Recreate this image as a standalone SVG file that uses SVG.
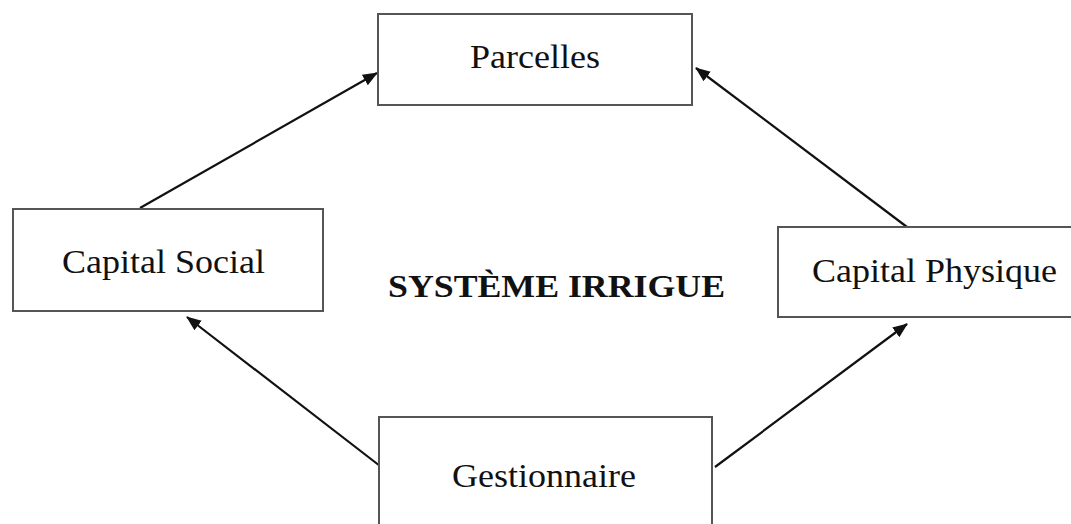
<svg xmlns="http://www.w3.org/2000/svg" width="1071" height="524" viewBox="0 0 1071 524">
  <style>
    .box { fill: #ffffff; stroke: #555555; stroke-width: 2; }
    .label { font-family: "Liberation Serif", "Times New Roman", serif; font-size: 33px; fill: #111111; text-anchor: middle; }
    .title { font-family: "Liberation Serif", "Times New Roman", serif; font-size: 32px; font-weight: bold; fill: #111111; text-anchor: middle; }
    .link { stroke: #111111; stroke-width: 2.2; fill: none; marker-end: url(#arrow); }
  </style>
  <defs>
    <marker id="arrow" markerUnits="userSpaceOnUse" markerWidth="16" markerHeight="14" refX="14" refY="7" orient="auto">
      <path d="M0,1 L15,7 L0,13 Z" fill="#111111"/>
    </marker>
  </defs>
  <rect width="1071" height="524" fill="#ffffff"/>

  <!-- connectors -->
  <g id="connectors">
    <line class="link" x1="140" y1="208" x2="377" y2="73"/>
    <line class="link" x1="907" y1="227" x2="696" y2="68"/>
    <line class="link" x1="380" y1="466" x2="187" y2="317"/>
    <line class="link" x1="715" y1="467" x2="907" y2="324"/>
  </g>

  <g id="parcelles">
    <rect class="box" x="378" y="14" width="314" height="91"/>
    <text class="label" x="535" y="68" textLength="130" lengthAdjust="spacingAndGlyphs">Parcelles</text>
  </g>

  <g id="capital-social">
    <rect class="box" x="13" y="209" width="310" height="102"/>
    <text class="label" x="163.5" y="273" textLength="203" lengthAdjust="spacingAndGlyphs">Capital Social</text>
  </g>

  <g id="capital-physique">
    <rect class="box" x="778" y="227" width="300" height="90"/>
    <text class="label" x="934.5" y="282" textLength="245" lengthAdjust="spacingAndGlyphs">Capital Physique</text>
  </g>

  <g id="gestionnaire">
    <rect class="box" x="379" y="417" width="333" height="120"/>
    <text class="label" x="544" y="487" textLength="184" lengthAdjust="spacingAndGlyphs">Gestionnaire</text>
  </g>

  <g id="systeme-irrigue">
    <text class="title" x="556.5" y="297" textLength="337" lengthAdjust="spacingAndGlyphs">SYSTÈME IRRIGUE</text>
  </g>
</svg>
